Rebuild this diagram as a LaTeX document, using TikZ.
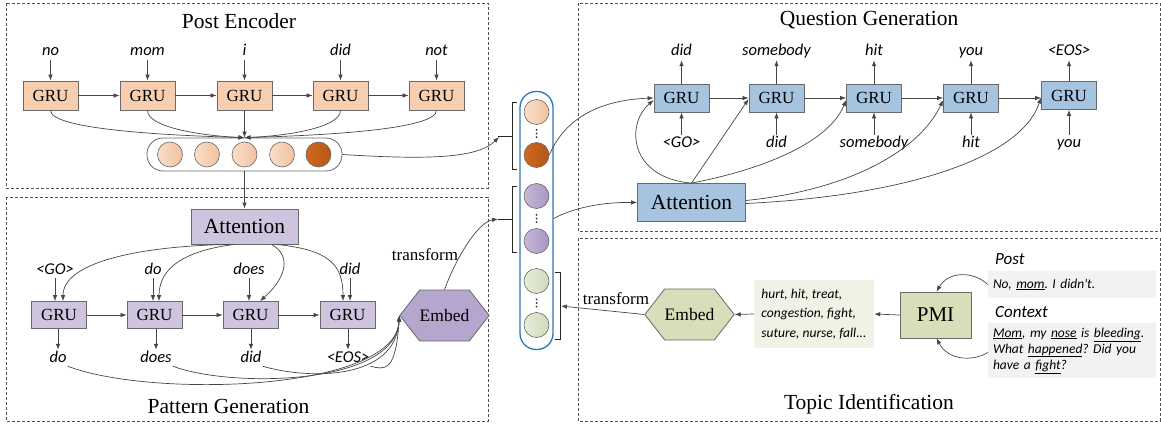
\documentclass[tikz,border=0pt]{standalone}
\usepackage{fontspec}
\setmainfont{Liberation Serif}
\newfontfamily\carl{Carlito}
\usetikzlibrary{shapes.symbols,arrows.meta,calc}
\definecolor{peach}{RGB}{248,206,176}
\definecolor{peachL}{RGB}{250,222,202}
\definecolor{peachR}{RGB}{242,194,160}
\definecolor{orgL}{RGB}{208,104,30}
\definecolor{orgR}{RGB}{182,86,22}
\definecolor{purL}{RGB}{206,196,222}
\definecolor{purE}{RGB}{180,166,204}
\definecolor{purcL}{RGB}{198,184,218}
\definecolor{purcR}{RGB}{168,150,194}
\definecolor{qblue}{RGB}{166,196,224}
\definecolor{grn}{RGB}{214,222,186}
\definecolor{grnT}{RGB}{239,242,229}
\definecolor{grncL}{RGB}{230,236,216}
\definecolor{grncR}{RGB}{210,218,188}
\definecolor{gbox}{RGB}{242,242,242}
\definecolor{bord}{RGB}{105,105,105}
\definecolor{arrc}{RGB}{70,70,70}
\definecolor{dashc}{RGB}{80,80,80}
\definecolor{vecblue}{RGB}{46,117,182}
\frenchspacing
\begin{document}
\begin{tikzpicture}[x=1pt,y=-1pt,
  dashbox/.style={draw=dashc, dash pattern=on 3pt off 2pt, line width=0.8pt},
  title/.style={font=\fontsize{21.5}{24}\selectfont, inner sep=0pt},
  gru/.style={draw=bord, line width=0.8pt, minimum width=55pt, minimum height=28pt, inner sep=0pt, font=\fontsize{17}{18}\selectfont},
  att/.style={draw=bord, line width=0.8pt, minimum width=107pt, minimum height=36pt, inner sep=0pt, font=\fontsize{21.5}{24}\selectfont},
  word/.style={font=\carl\itshape\fontsize{16.5}{18}\selectfont, text height=11pt, text depth=3pt, inner sep=1pt},
  lbl/.style={font=\fontsize{17}{18}\selectfont, inner sep=1pt},
  arr/.style={-{Latex[length=6pt,width=4.5pt]}, draw=arrc, line width=0.7pt},
  circ/.style={circle, draw=bord, line width=0.6pt, minimum size=25pt, inner sep=0pt},
  hexa/.style={signal, signal to=west and east, signal pointer angle=104, draw=bord, line width=0.8pt, minimum width=85pt, minimum height=51pt, inner sep=0pt, font=\fontsize{17.5}{18}\selectfont},
  brk/.style={draw=black!85, line width=0.9pt},
  small/.style={font=\carl\itshape\fontsize{13.5}{16}\selectfont}
]
\useasboundingbox (0,0) rectangle (1161,428);

% ---------------- dashed frames
\draw[dashbox] (6,3) rectangle (488,188);
\draw[dashbox] (6,197) rectangle (488,421);
\draw[dashbox] (578,3) rectangle (1160,231);
\draw[dashbox] (578,238) rectangle (1160,421);

% ---------------- Post Encoder
\node[title] (tPE) at (239,21) {Post Encoder};
\foreach \i/\x/\w in {1/50.5/no,2/147.5/mom,3/244.5/i,4/340.5/did,5/436.5/not}{
  \node[gru,fill=peach,minimum height=29pt] (pe\i) at (\x,95.5) {GRU};
  \node[word] (wpe\i) at (\x,52) {\w};
  \draw[arr] (wpe\i.south) -- (pe\i.north);
}
\foreach \a/\b in {1/2,2/3,3/4,4/5}{\draw[arr] (pe\a.east) -- (pe\b.west);}
\node[draw=bord, line width=0.8pt, rounded corners=16pt, minimum width=195pt, minimum height=33pt, inner sep=0pt] (cap) at (244.5,154.5) {};
\foreach \i/\x in {1/170,2/207,3/244.5,4/282}{
  \node[circ, left color=peachL, right color=peachR] (c\i) at (\x,154.5) {};
}
\node[circ, left color=orgL, right color=orgR] (c5) at (318.5,154.5) {};
\draw[arr] (pe1.south) .. controls (50.5,128) and (150,135) .. (cap.north);
\draw[arr] (pe2.south) .. controls (147.5,128) and (205,136) .. (cap.north);
\draw[arr] (pe3.south) -- (cap.north);
\draw[arr] (pe4.south) .. controls (340.5,128) and (285,136) .. (cap.north);
\draw[arr] (pe5.south) .. controls (436.5,128) and (340,135) .. (cap.north);

% ---------------- Pattern Generation
\node[title] (tPG) at (228.5,406) {Pattern Generation};
\node[att, fill=purL, minimum height=35pt] (pgatt) at (244.5,226.5) {Attention};
\draw[arr] (cap.south) -- (pgatt.north);
\foreach \i/\x in {1/59,2/154.5,3/250.5,4/347.5}{
  \node[gru,fill=purL,minimum height=27pt] (pg\i) at (\x,315) {GRU};
}
\node[word] (wpi1) at (55,270) {<GO>};
\node[word] (wpi2) at (153,270) {do};
\node[word] (wpi3) at (249,270) {does};
\node[word] (wpi4) at (350,270) {did};
\foreach \i in {1,2,3,4}{\draw[arr] (wpi\i.south) -- (wpi\i.south |- pg\i.north);}
\foreach \a/\b in {1/2,2/3,3/4}{\draw[arr] (pg\a.east) -- (pg\b.west);}
\node[word] (wpo1) at (58,358) {do};
\node[word] (wpo2) at (156,358) {does};
\node[word] (wpo3) at (251,358) {did};
\node[word] (wpo4) at (348,358) {<EOS>};
\foreach \i in {1,2,3,4}{\draw[arr] (pg\i.south -| wpo\i.north) -- (wpo\i.north);}
\draw[arr] ([xshift=-14pt]pgatt.south) .. controls (140,246) and (63,262) .. ([xshift=4pt]pg1.north);
\draw[arr] ([xshift=-10pt]pgatt.south) .. controls (190,250) and (159,265) .. ([xshift=4.5pt]pg2.north);
\draw[arr] ([xshift=27pt]pgatt.south) .. controls (292,256) and (286,278) .. ([xshift=9.5pt]pg3.north);
\draw[arr] ([xshift=32pt]pgatt.south) .. controls (330,250) and (343,265) .. ([xshift=-4.5pt]pg4.north);
\node[hexa, fill=purE] (pemb) at (444.5,315.5) {Embed};
\draw[arr] (wpo1.south east) .. controls (150,398) and (396,392) .. (pemb.west);
\draw[arr] (wpo2.south east) .. controls (230,388) and (396,386) .. (pemb.west);
\draw[arr] (wpo3.south east) .. controls (310,380) and (396,380) .. (pemb.west);
\draw[arr] (wpo4.south east) .. controls (385,370) and (396,372) .. (pemb.west);

% ---------------- middle vector
\node[draw=vecblue, line width=1.3pt, rounded corners=16pt, minimum width=33pt, minimum height=258pt, inner sep=0pt] (vec) at (536.5,220.5) {};
\node[circ, left color=peachL, right color=peachR] (m1) at (536.5,112) {};
\node[circ, left color=orgL, right color=orgR] (m2) at (536.5,155) {};
\node[circ, left color=purcL, right color=purcR] (m3) at (536.5,196) {};
\node[circ, left color=purcL, right color=purcR] (m4) at (536.5,241) {};
\node[circ, left color=grncL, right color=grncR] (m5) at (536.5,281) {};
\node[circ, left color=grncL, right color=grncR] (m6) at (536.5,325) {};
\foreach \i/\y in {1/133.5,2/218.5,3/303}{
  \coordinate (dots\i) at (536.5,\y);
  \fill[black!80] ([yshift=3.6pt]dots\i) circle (1pt) (dots\i) circle (1pt) ([yshift=-3.6pt]dots\i) circle (1pt);
}
\draw[brk] (517,102) -- (512,102) -- (512,169) -- (517,169);
\draw[brk] (512,136) -- (498,136);
\coordinate (b1s) at (499,137);
\draw[brk] (517,186) -- (512,186) -- (512,252) -- (517,252);
\draw[brk] (512,219) -- (498,219);
\coordinate (b2s) at (498,219);
\draw[brk] (555,272) -- (560,272) -- (560,339) -- (555,339);
\coordinate (b3m) at (561,306);
\draw[arr] (cap.east) .. controls (430,160) and (478,158) .. (b1s);
\draw[arr] (pemb.north) .. controls (456,258) and (478,222) .. (b2s);
\node[lbl] (ltr1) at (425,255) {transform};

% ---------------- Question Generation
\node[title] (tQG) at (869,20) {Question Generation};
\foreach \i/\x/\y/\o/\n in {1/681.5/98/did/{<GO>},2/776.5/98/somebody/did,3/874/98/hit/somebody,4/971/98/you/hit,5/1069/95.5/{<EOS>}/you}{
  \node[gru,fill=qblue] (qg\i) at (\x,\y) {GRU};
  \node[word] (wqo\i) at (\x,52) {\o};
  \node[word] (wqi\i) at (\x,143) {\n};
  \draw[arr] (qg\i.north) -- (wqo\i.south);
  \draw[arr] (wqi\i.north) -- (qg\i.south);
}
\draw[arr] (qg1.east) -- (qg2.west);
\draw[arr] (qg2.east) -- (qg3.west);
\draw[arr] (qg3.east) -- (qg4.west);
\draw[arr] (qg4.east) -- (qg4.east -| qg5.west);
\node[att, fill=qblue, minimum width=108pt, minimum height=38pt] (qgatt) at (691.5,202.5) {Attention};
\draw[arr] (m2.east) .. controls (565,118) and (600,100) .. (qg1.west);
\draw[arr] ([yshift=2pt]vec.east) .. controls (575,207) and (605,202) .. (qgatt.west);
\draw[arr] (qgatt.north) .. controls (630,178) and (625,125) .. ([yshift=-2pt]qg1.west);
\draw[arr] (qgatt.north) -- ([yshift=-1pt]qg2.west);
\draw[arr] (qgatt.north) .. controls (770,168) and (830,140) .. ([yshift=-2pt]qg3.west);
\draw[arr] ([yshift=2pt]qgatt.east) .. controls (850,190) and (920,150) .. ([yshift=-2pt]qg4.west);
\draw[arr] ([yshift=-1pt]qgatt.east) .. controls (900,196) and (1020,160) .. ([yshift=-2pt]qg5.west);

% ---------------- Topic Identification
\node[title] (tTI) at (869,404) {Topic Identification};
\node[hexa, fill=grn] (temb) at (689.5,314.5) {Embed};
\draw[arr] (temb.west) -- (b3m);
\node[lbl] (ltr2) at (616,299) {transform};
\node[fill=grnT, minimum width=120pt, minimum height=68pt, inner sep=0pt, align=left, font=\carl\itshape\fontsize{13.5}{19.5}\selectfont] (tbox) at (814,314) {hurt, hit, treat,\\congestion, fight,\\suture, nurse, fall...};
\node[draw=bord, line width=0.8pt, fill=grn, minimum width=71pt, minimum height=46pt, inner sep=0pt, font=\fontsize{21}{24}\selectfont] (pmi) at (935.5,315) {PMI};
\draw[arr] (pmi.west) -- (tbox.east);
\draw[arr] (tbox.west) -- (temb.east);
\node[word, anchor=west, font=\carl\itshape\fontsize{17}{18}\selectfont] (lpost) at (994,260) {Post};
\node[fill=gbox, minimum width=168pt, minimum height=27pt, text width=158pt, inner xsep=5pt, inner ysep=0pt, align=left, small] (bpost) at (1072,284.5) {No, \underline{mom}. I didn't.};
\node[word, anchor=west, font=\carl\itshape\fontsize{17}{18}\selectfont] (lctx) at (994,313) {Context};
\node[fill=gbox, minimum width=168pt, minimum height=55pt, text width=158pt, inner xsep=5pt, inner ysep=0pt, align=left, small] (bctx) at (1072,350.5) {\underline{Mom}, my \underline{nose} is \underline{bleeding}.\\What \underline{happened}? Did you\\have a \underline{fight}?};
\draw[arr] (bpost.west) .. controls (972,270) and (948,272) .. ([xshift=1pt]pmi.north);
\draw[arr] ([yshift=-2pt]bctx.west) .. controls (972,362) and (948,360) .. ([xshift=1pt]pmi.south);
\end{tikzpicture}
\end{document}
